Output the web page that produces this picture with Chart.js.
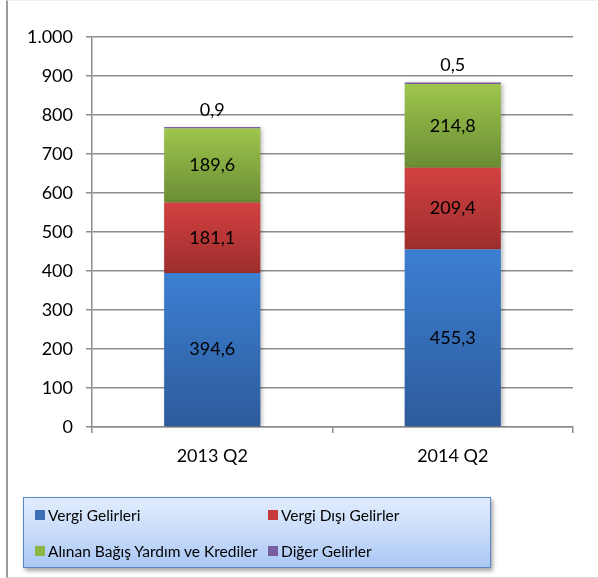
<!DOCTYPE html>
<html>
<head>
<meta charset="utf-8">
<script src="https://cdn.jsdelivr.net/npm/chart.js@4"></script>
<style>
  html, body { margin: 0; padding: 0; background: #fff; }
  #wrap { position: relative; width: 598px; height: 578px; overflow: hidden; }
  #frame {
    position: absolute; left: 6px; top: 0; width: 600px; height: 576px;
    border-left: 2px solid #9a9a9a; border-bottom: 1px solid #d8d8d8; border-top: 1px solid #eeeeee;
    pointer-events: none;
  }
  #chart { position: absolute; left: 0; top: 0; }
  #legend {
    position: absolute; left: 23px; top: 497px; width: 466px; height: 69px;
    border: 1.5px solid #5b87c5;
    background: linear-gradient(to bottom, #e1ecfd 0%, #c9dcfa 50%, #a9c7f4 100%);
    box-shadow: 2px 3px 4px rgba(0, 0, 0, 0.35);
    font-family: Lato, "Open Sans", sans-serif; font-size: 15.5px; color: #000;
  }
  .item { position: absolute; display: flex; align-items: center; white-space: nowrap; }
  .item i { display: inline-block; width: 10px; height: 10px; margin-right: 3px; }
</style>
</head>
<body>
<div id="wrap">
  <canvas id="chart" width="598" height="578"></canvas>
  <div id="legend"></div>
  <div id="frame"></div>
</div>
<script>
  var categories = ['2013 Q2', '2014 Q2'];
  var seriesNames = ['Vergi Gelirleri', 'Vergi Dışı Gelirler', 'Alınan Bağış Yardım ve Krediler', 'Diğer Gelirler'];
  var vergiGelirleri = [394.6, 455.3];
  var vergiDisiGelirler = [181.1, 209.4];
  var alinanBagis = [189.6, 214.8];
  var digerGelirler = [0.9, 0.5];
  var yTicks = [0, 100, 200, 300, 400, 500, 600, 700, 800, 900, 1000];

  // top / bottom colours of each segment gradient
  var gradColors = [
    ['#3c7fd2', '#2d5b9b'],
    ['#d34141', '#9e2d2d'],
    ['#9ec64d', '#6a8d34'],
    ['#8064a2', '#8064a2']
  ];
  var legendColors = ['#3a6fb8', '#c63a3a', '#8db543', '#7a5ca0'];
  var allSeries = [vergiGelirleri, vergiDisiGelirler, alinanBagis, digerGelirler];
  var FONT = 'Lato, "Open Sans", sans-serif';

  function fmt(v) { return v.toFixed(1).replace('.', ','); }

  function segmentFill(dsIndex) {
    return function (ctx) {
      var chart = ctx.chart;
      var y = chart.scales.y;
      if (!chart.chartArea || !y || ctx.dataIndex == null) return gradColors[dsIndex][0];
      var start = 0;
      for (var k = 0; k < dsIndex; k++) start += allSeries[k][ctx.dataIndex];
      var end = start + allSeries[dsIndex][ctx.dataIndex];
      var top = y.getPixelForValue(end);
      var bottom = y.getPixelForValue(start);
      if (!isFinite(top) || !isFinite(bottom) || bottom - top < 2) return gradColors[dsIndex][0];
      var g = chart.ctx.createLinearGradient(0, top, 0, bottom);
      g.addColorStop(0, gradColors[dsIndex][0]);
      g.addColorStop(1, gradColors[dsIndex][1]);
      return g;
    };
  }

  var datasets = allSeries.map(function (data, i) {
    return {
      label: seriesNames[i],
      data: data,
      backgroundColor: segmentFill(i),
      borderWidth: 0,
      barPercentage: 0.4,
      categoryPercentage: 1,
      minBarLength: i === 3 ? 1.5 : 0
    };
  });

  var barShadow = {
    id: 'barShadow',
    beforeDatasetsDraw: function (chart) {
      var c = chart.ctx;
      c.save();
      c.shadowColor = 'rgba(0,0,0,0.28)';
      c.shadowBlur = 4;
      c.shadowOffsetX = 2;
      c.shadowOffsetY = 1;
    },
    afterDatasetsDraw: function (chart) {
      chart.ctx.restore();
    }
  };

  var valueLabels = {
    id: 'valueLabels',
    afterDatasetsDraw: function (chart) {
      var c = chart.ctx;
      c.save();
      c.font = '18px ' + FONT;
      c.fillStyle = '#000';
      c.textAlign = 'center';
      c.textBaseline = 'middle';
      chart.data.datasets.forEach(function (ds, i) {
        var meta = chart.getDatasetMeta(i);
        meta.data.forEach(function (bar, j) {
          var p = bar.getProps(['x', 'y', 'base'], true);
          var yy = i === 3 ? p.y - 17 : (p.y + p.base) / 2;
          c.fillText(fmt(ds.data[j]), p.x, yy);
        });
      });
      c.restore();
    }
  };

  new Chart(document.getElementById('chart'), {
    type: 'bar',
    data: { labels: categories, datasets: datasets },
    options: {
      responsive: false,
      animation: false,
      layout: { padding: { left: 0, top: 37, right: 25, bottom: 0 } },
      plugins: { legend: { display: false }, tooltip: { enabled: false } },
      scales: {
        x: {
          stacked: true,
          afterFit: function (s) { s.height = 151; },
          grid: { drawOnChartArea: false, drawTicks: true, tickLength: 6, offset: true, color: '#8c8c8c', lineWidth: 1.5 },
          border: { color: '#8c8c8c', width: 1.5 },
          ticks: { color: '#000', padding: 12, font: { family: FONT, size: 18 } }
        },
        y: {
          stacked: true,
          min: 0,
          max: 1000,
          afterFit: function (s) { s.width = 92; },
          afterBuildTicks: function (s) { s.ticks = yTicks.map(function (v) { return { value: v }; }); },
          grid: { color: '#8c8c8c', lineWidth: 1.5, tickLength: 6 },
          border: { color: '#8c8c8c', width: 1.5 },
          ticks: {
            color: '#000', padding: 13,
            font: { family: FONT, size: 18 },
            callback: function (v) { return v >= 1000 ? '1.000' : String(v); }
          }
        }
      }
    },
    plugins: [barShadow, valueLabels]
  });

  // legend built from the series arrays
  var legend = document.getElementById('legend');
  var pos = [[11, 18], [244, 18], [11, 54], [244, 54]];
  seriesNames.forEach(function (name, i) {
    var d = document.createElement('div');
    d.className = 'item';
    d.style.left = pos[i][0] + 'px';
    d.style.top = (pos[i][1] - 10) + 'px';
    d.innerHTML = '<i style="background:' + legendColors[i] + '"></i>' + name;
    legend.appendChild(d);
  });
</script>
</body>
</html>
